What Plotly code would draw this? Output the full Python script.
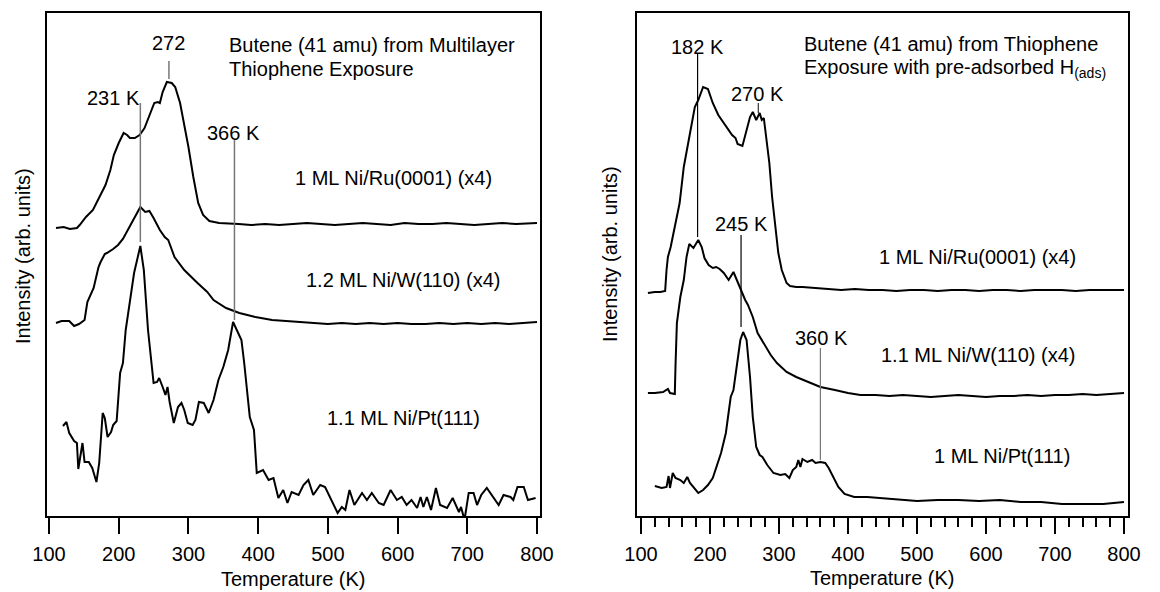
import plotly.graph_objects as go

# ---------------- data (Temperature in K, intensity in arbitrary units) ----------------
# Left panel: Butene (41 amu) from multilayer thiophene exposure
L_ru_T = [110,121,130,140,144,153,163,172,181,188,193,200,207,212,216,223,230,237,246,251,256,259,263,269,276,281,288,293,300,307,314,321,330,344,360,372,390,410,430,450,470,490,510,530,550,570,590,610,630,650,670,690,710,730,750,770,790,800]
L_ru_I = [288,289,287,288,291,299,306,318,331,346,361,373,383,381,378,378,381,388,403,413,414,413,424,434,433,429,413,396,369,339,313,301,295,293,292,292,291,292,291,292,293,292,291,292,293,292,291,293,292,292,293,292,291,292,293,292,293,293]

L_w_T = [110,118,129,136,143,151,155,164,171,174,180,183,192,199,206,215,224,231,238,244,250,259,266,271,280,294,313,327,336,354,373,396,420,440,457,480,500,520,540,560,580,600,620,640,660,680,700,720,740,760,780,800]
L_w_I = [193,195,195,190,192,196,214,228,249,254,262,263,267,271,277,289,301,309,304,305,298,286,279,276,259,246,233,224,216,208,203,199,196,195,194,193,192,193,192,193,192,193,192,192,193,192,193,192,193,192,193,194]

L_pt_T = [120,125,129,136,140,142,148,151,157,162,168,172,177,180,184,189,192,197,202,206,210,216,222,231,236,242,250,255,258,263,267,270,273,279,285,290,294,299,306,310,315,322,329,336,343,350,357,364,371,376,380,385,388,394,398,407,415,422,429,436,442,448,458,465,472,479,489,496,506,514,520,525,531,538,549,556,563,573,580,590,599,606,613,620,628,633,637,642,648,655,661,671,679,688,691,696,702,709,714,720,728,735,745,752,762,766,772,781,787,798]
L_pt_I = [90,94,83,75,73,47,73,54,54,48,34,53,103,98,79,84,91,95,143,153,186,213,243,270,246,186,133,134,138,129,121,129,114,93,109,113,106,93,91,96,114,113,103,116,136,149,166,194,183,176,153,119,99,86,43,46,36,38,18,26,13,24,21,31,36,21,31,29,14,3,9,6,26,11,23,16,23,13,11,26,16,19,11,16,8,19,9,19,6,28,11,8,18,4,9,-4,23,23,11,21,28,21,11,21,19,16,29,29,16,18]

# Right panel: Butene (41 amu) from thiophene exposure with pre-adsorbed H
R_ru_T = [110,120,128,135,137,139,143,150,156,162,167,172,178,183,190,197,204,212,220,227,232,237,240,247,251,258,262,267,272,275,278,281,286,290,295,299,304,311,316,325,334,350,372,390,410,430,450,470,490,510,530,550,570,590,610,630,650,670,690,710,730,750,770,790,800]
R_ru_I = [223,224,224,225,246,259,269,293,313,349,369,389,409,416,429,427,413,401,393,386,381,378,372,370,381,399,404,396,403,396,398,383,353,319,289,263,246,233,230,229,229,228,227,226,227,226,226,225,226,226,225,226,226,225,226,226,225,226,226,226,225,226,226,226,226]

R_w_T = [110,120,132,139,142,149,150,152,157,162,166,170,176,181,183,188,192,198,204,209,214,220,227,234,240,246,251,255,262,269,279,288,297,311,325,344,360,381,400,418,440,460,480,500,520,540,560,580,600,620,640,660,680,700,720,740,760,780,800]
R_w_I = [123,123,124,127,123,122,150,193,219,236,259,272,268,273,276,269,258,251,248,249,247,243,236,244,234,223,216,211,199,183,171,161,153,144,139,134,129,126,123,121,121,120,121,120,119,120,121,120,119,120,120,121,120,121,121,122,121,122,123]

R_pt_T = [120,130,137,140,142,146,150,157,162,167,171,176,183,190,197,204,211,216,223,230,234,239,244,248,253,258,262,267,272,276,283,292,302,309,315,320,325,328,331,334,341,348,353,360,367,372,379,386,395,409,428,446,470,500,530,560,590,620,650,680,710,740,770,800]
R_pt_I = [30,28,29,40,28,43,38,36,33,39,33,29,23,26,31,38,53,63,83,119,126,153,176,184,176,139,99,69,61,59,51,43,41,42,38,46,49,56,49,57,54,56,53,54,53,48,38,29,22,19,19,18,17,15,16,16,15,16,14,14,12,12,12,14]

tick_vals = [100, 200, 300, 400, 500, 600, 700, 800]
tick_text = ["100", "200", "300", "400", "500", "600", "700", "800"]

# peak marker lines: T and label
L_peaks_T = [272, 231, 366]
L_peaks_lbl = ["272", "231 K", "366 K"]
R_peaks_T = [182, 270, 245, 360]
R_peaks_lbl = ["182 K", "270 K", "245 K", "360 K"]

L_names = ["1 ML Ni/Ru(0001) (x4)", "1.2 ML Ni/W(110) (x4)", "1.1 ML Ni/Pt(111)"]
R_names = ["1 ML Ni/Ru(0001) (x4)", "1.1 ML Ni/W(110) (x4)", "1 ML Ni/Pt(111)"]

# ---------------- figure ----------------
FONT = "Liberation Sans, Arial, Helvetica, sans-serif"
FS = 20
W, H = 1160, 592

fig = go.Figure()
line = dict(color="black", width=2)
for T, I in [(L_ru_T, L_ru_I), (L_w_T, L_w_I), (L_pt_T, L_pt_I)]:
    fig.add_trace(go.Scatter(x=T, y=I, mode="lines", line=line, xaxis="x", yaxis="y",
                             showlegend=False, hoverinfo="skip"))
for T, I in [(R_ru_T, R_ru_I), (R_w_T, R_w_I), (R_pt_T, R_pt_I)]:
    fig.add_trace(go.Scatter(x=T, y=I, mode="lines", line=line, xaxis="x2", yaxis="y2",
                             showlegend=False, hoverinfo="skip"))

ydom = [(H - 516) / H, (H - 13) / H]
xcommon = dict(showline=True, linecolor="black", linewidth=2, mirror=True,
               ticks="outside", ticklen=16, tickwidth=2, tickcolor="black",
               tickvals=tick_vals, ticktext=tick_text, showgrid=False, zeroline=False,
               automargin=False,
               tickfont=dict(family=FONT, size=FS, color="black"), ticklabelstandoff=3)
ycommon = dict(showline=True, linecolor="black", linewidth=2, mirror=True,
               ticks="", showticklabels=False, showgrid=False, zeroline=False,
               automargin=False, range=[0, 503], domain=ydom)

fig.update_layout(
    width=W, height=H, margin=dict(l=0, r=0, t=0, b=0, pad=0, autoexpand=False),
    paper_bgcolor="white", plot_bgcolor="white",
    font=dict(family=FONT, size=FS, color="black"),
    xaxis=dict(domain=[47 / W, 540 / W], range=[97.1, 804.3], anchor="y", **xcommon),
    yaxis=dict(anchor="x", **ycommon),
    xaxis2=dict(domain=[637 / W, 1128 / W], range=[94.2, 805.8], anchor="y2",
                minor=dict(dtick=20, tick0=100, ticks="outside", ticklen=9, tickwidth=2,
                           tickcolor="black", showgrid=False),
                **xcommon),
    yaxis2=dict(anchor="x2", **ycommon),
)

# peak marker lines (x from the peak temperatures)
L_line_y = [(437, 455), (274, 413), (196, 376)]
L_line_col = ["#777777", "#777777", "#777777"]
for T, (y0, y1), c in zip(L_peaks_T, L_line_y, L_line_col):
    fig.add_shape(type="line", xref="x", yref="y", x0=T, x1=T, y0=y0, y1=y1,
                  line=dict(color=c, width=1.5))
R_line_y = [(279, 463), (403, 413), (189, 281), (56, 168)]
R_line_col = ["black", "#333333", "black", "#777777"]
for T, (y0, y1), c in zip(R_peaks_T, R_line_y, R_line_col):
    fig.add_shape(type="line", xref="x2", yref="y2", x0=T, x1=T, y0=y0, y1=y1,
                  line=dict(color=c, width=1.2))

def ann(text, x, y, xref, yref, xanchor="center", angle=0):
    fig.add_annotation(text=text, x=x, y=y, xref=xref, yref=yref, showarrow=False,
                       xanchor=xanchor, yanchor="middle", textangle=angle,
                       font=dict(family=FONT, size=FS, color="black"))

# left panel labels
L_lbl_pos = [(271, 473), (193, 418), (365, 383)]
for lbl, (x, y) in zip(L_peaks_lbl, L_lbl_pos):
    ann(lbl, x, y, "x", "y")
ann("Butene (41 amu) from Multilayer", 356, 471, "x", "y", xanchor="left")
ann("Thiophene Exposure", 356, 447, "x", "y", xanchor="left")
for name, (x, y) in zip(L_names, [(594, 338), (608, 236), (609, 98)]):
    ann(name, x, y, "x", "y")

# right panel labels
R_lbl_pos = [(182, 469), (269, 422), (245, 292), (361, 178)]
for lbl, (x, y) in zip(R_peaks_lbl, R_lbl_pos):
    ann(lbl, x, y, "x2", "y2")
ann("Butene (41 amu) from Thiophene", 334, 472, "x2", "y2", xanchor="left")
ann("Exposure with pre-adsorbed H<sub>(ads)</sub>", 334, 447, "x2", "y2", xanchor="left")
for name, (x, y) in zip(R_names, [(587, 259), (588, 161), (623, 60)]):
    ann(name, x, y, "x2", "y2")

# axis titles
ann("Intensity (arb. units)", 23 / W, 1 - 256 / H, "paper", "paper", angle=-90)
ann("Intensity (arb. units)", 610 / W, 1 - 254 / H, "paper", "paper", angle=-90)
ann("Temperature (K)", 0.5, 1 - 579 / H, "x domain", "paper")
ann("Temperature (K)", 0.5, 1 - 578 / H, "x2 domain", "paper")

fig.write_html("out.html")
